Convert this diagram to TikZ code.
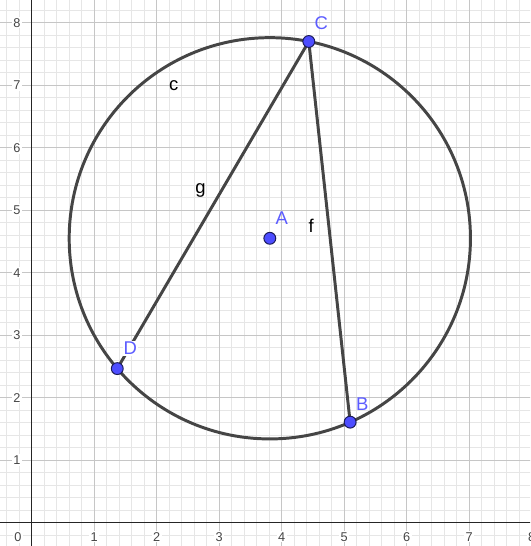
\documentclass[tikz,border=0pt]{standalone}
\usepackage{fontspec}
\setmainfont{Liberation Sans}
\usetikzlibrary{calc}
\definecolor{ggblue}{HTML}{4D4DFF}
\definecolor{gglabel}{HTML}{5C5CFF}
\definecolor{ggline}{HTML}{454545}
\definecolor{ggmajor}{HTML}{C6C6C6}
\definecolor{ggminor}{HTML}{E6E6E6}
\definecolor{ggaxis}{HTML}{252525}

\begin{document}
\begin{tikzpicture}[
  pt/.style={circle, draw=ggblue!35!black, fill=ggblue, line width=0.45pt,
    inner sep=0pt, minimum size=0.19cm},
  ptlabel/.style={font=\fontsize{8.4}{10}\selectfont, text=gglabel, inner sep=0pt},
  objlabel/.style={font=\fontsize{8.4}{10}\selectfont, text=black, inner sep=0pt},
  ticklabel/.style={font=\fontsize{5.8}{7}\selectfont, text=ggaxis!85,
    fill=white, inner sep=0.6pt},
  obj/.style={ggline, line width=1.35pt}
]
  % graphics view: 1 unit = 1 cm, x from -0.5 to 8, y from -0.4 to 8.4
  \useasboundingbox (-0.507,-0.373) rectangle (7.973,8.363);
  \clip (-0.507,-0.373) rectangle (7.973,8.363);
  \fill[white] (-0.507,-0.373) rectangle (7.973,8.363);

  % minor grid, step 0.2
  \foreach \i in {-3,...,40}{
    \draw[ggminor, line width=0.45pt] (\i/5,-0.5) -- (\i/5,8.5);
  }
  \foreach \j in {-2,...,42}{
    \draw[ggminor, line width=0.45pt] (-0.6,\j/5) -- (8.1,\j/5);
  }

  % major grid
  \foreach \x in {1,...,8}{
    \draw[ggmajor, line width=0.6pt] (\x,-0.5) -- (\x,8.5);
  }
  \foreach \y in {1,...,8}{
    \draw[ggmajor, line width=0.6pt] (-0.6,\y) -- (8.1,\y);
  }

  % axes
  \draw[ggaxis, line width=0.7pt] (0,-0.5) -- (0,8.5);
  \draw[ggaxis, line width=0.7pt] (-0.6,0) -- (8.1,0);

  % tick labels
  \foreach \x in {1,...,8}{
    \node[ticklabel] (xtick\x) at (\x,-0.224) {\x};
  }
  \foreach \y in {1,...,8}{
    \node[ticklabel] (ytick\y) at (-0.235,\y) {\y};
  }
  \node[ticklabel] (origin) at (-0.22,-0.224) {0};

  % circle c with centre A through C
  \coordinate (A) at (3.81,4.55);
  \coordinate (C) at ($(A)+(78.8:3.21)$);
  \coordinate (D) at ($(A)+(220.5:3.21)$);
  \coordinate (B) at ($(A)+(293.6:3.21)$);
  \draw[obj] (A) circle (3.21);

  % segments g = CD and f = CB
  \draw[obj] (C) -- (D);
  \draw[obj] (C) -- (B);

  % points
  \node[pt] (pA) at (A) {};
  \node[pt] (pB) at (B) {};
  \node[pt] (pC) at (C) {};
  \node[pt] (pD) at (D) {};

  % labels
  \node[ptlabel] (lA) at (4.0,4.875) {A};
  \node[ptlabel] (lB) at (5.288,1.904) {B};
  \node[ptlabel] (lC) at (4.632,7.998) {C};
  \node[ptlabel, fill=white, inner sep=0.4pt] (lD) at (1.576,2.79) {D};
  \node[objlabel] (lc) at (2.274,6.99) {c};
  \node[objlabel] (lf) at (4.472,4.75) {f};
  \node[objlabel] (lg) at (2.70,5.32) {g};
\end{tikzpicture}
\end{document}
